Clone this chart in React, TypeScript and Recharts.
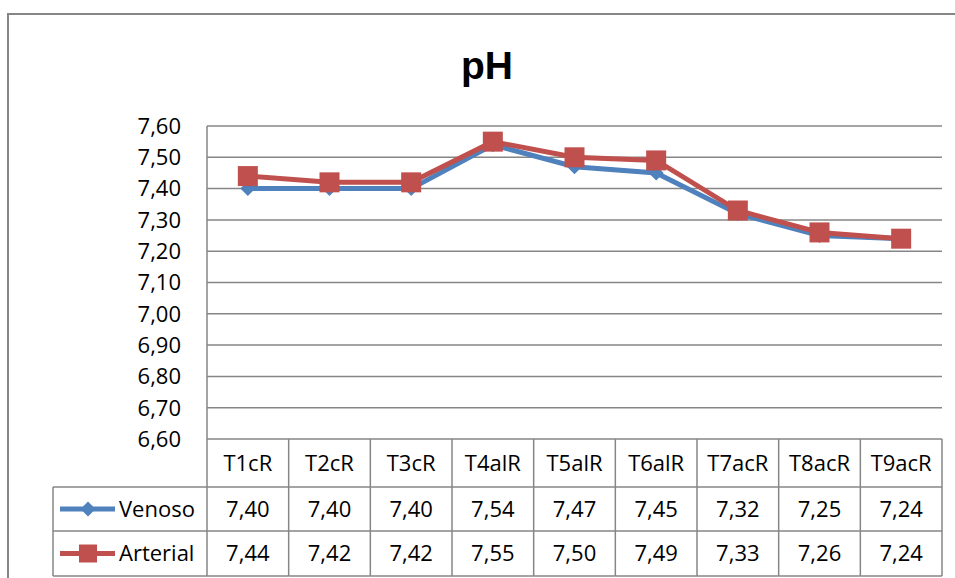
import React from 'react';
import { LineChart, Line, XAxis, YAxis, CartesianGrid } from 'recharts';

const categories = ['T1cR', 'T2cR', 'T3cR', 'T4alR', 'T5alR', 'T6alR', 'T7acR', 'T8acR', 'T9acR'];
const venoso = [7.4, 7.4, 7.4, 7.54, 7.47, 7.45, 7.32, 7.25, 7.24];
const arterial = [7.44, 7.42, 7.42, 7.55, 7.5, 7.49, 7.33, 7.26, 7.24];
const yTicks = [6.6, 6.7, 6.8, 6.9, 7.0, 7.1, 7.2, 7.3, 7.4, 7.5, 7.6];

const data = categories.map((name, i) => ({ name, venoso: venoso[i], arterial: arterial[i] }));

const W = 947;
const H = 570;
const MARGIN = { top: 118, right: 13, bottom: 0, left: 0 };
const Y_AXIS_W = 199;
const X_AXIS_H = H - 431;
const COL_W = (W - MARGIN.right - Y_AXIS_W) / categories.length;

const BLUE = '#4F81BD';
const RED = '#C0504D';
const GRID = '#868686';
const FONT = "'Open Sans', sans-serif";
const FS = 22;

// table rows (chart coords)
const ROW_TOP = 431;
const ROW1 = 479;
const ROW2 = 523;
const ROW3 = 568;
const LEGEND_LEFT = 45;

const fmt = (v: number) => v.toFixed(2).replace('.', ',');

function Diamond({ cx, cy, size = 7.5, key }: any) {
  if (cx == null || cy == null) return <g key={key} />;
  return (
    <polygon
      key={key}
      points={`${cx},${cy - size} ${cx + size},${cy} ${cx},${cy + size} ${cx - size},${cy}`}
      fill={BLUE}
    />
  );
}

function Square({ cx, cy, size = 10, key }: any) {
  if (cx == null || cy == null) return <g key={key} />;
  return <rect key={key} x={cx - size} y={cy - size} width={size * 2} height={size * 2} fill={RED} />;
}

function cellText(x: number, yTop: number, yBot: number, s: string, anchor: 'middle' | 'start' = 'middle') {
  return (
    <text
      x={x}
      y={(yTop + yBot) / 2}
      dy="0.36em"
      textAnchor={anchor}
      fontFamily={FONT}
      fontSize={FS}
      fill="#000"
    >
      {s}
    </text>
  );
}

function TableTick(props: any) {
  const { x, payload } = props;
  const i = categories.indexOf(payload.value);
  const left = x - COL_W / 2;
  const right = x + COL_W / 2;
  const line = { stroke: GRID, strokeWidth: 1.5 };
  return (
    <g>
      {i === 0 && (
        <g>
          <line x1={left} y1={ROW_TOP} x2={left} y2={ROW3} {...line} />
          <line x1={LEGEND_LEFT} y1={ROW1} x2={left} y2={ROW1} {...line} />
          <line x1={LEGEND_LEFT} y1={ROW2} x2={left} y2={ROW2} {...line} />
          <line x1={LEGEND_LEFT} y1={ROW3} x2={left} y2={ROW3} {...line} />
          <line x1={LEGEND_LEFT} y1={ROW1} x2={LEGEND_LEFT} y2={ROW3} {...line} />
          <line x1={52} y1={(ROW1 + ROW2) / 2} x2={107} y2={(ROW1 + ROW2) / 2} stroke={BLUE} strokeWidth={5} />
          {Diamond({ cx: 80, cy: (ROW1 + ROW2) / 2 })}
          {cellText(111, ROW1, ROW2, 'Venoso', 'start')}
          <line x1={52} y1={(ROW2 + ROW3) / 2} x2={107} y2={(ROW2 + ROW3) / 2} stroke={RED} strokeWidth={5} />
          {Square({ cx: 80, cy: (ROW2 + ROW3) / 2, size: 9 })}
          {cellText(111, ROW2, ROW3, 'Arterial', 'start')}
        </g>
      )}
      <line x1={right} y1={ROW_TOP} x2={right} y2={ROW3} {...line} />
      <line x1={left} y1={ROW1} x2={right} y2={ROW1} {...line} />
      <line x1={left} y1={ROW2} x2={right} y2={ROW2} {...line} />
      <line x1={left} y1={ROW3} x2={right} y2={ROW3} {...line} />
      {cellText(x, ROW_TOP, ROW1, String(payload.value))}
      {cellText(x, ROW1, ROW2, fmt(venoso[i]))}
      {cellText(x, ROW2, ROW3, fmt(arterial[i]))}
    </g>
  );
}

export default function App() {
  // fixed so the page never scrolls; everything below is in page pixels
  return (
    <div
      style={{
        position: 'fixed',
        left: 0,
        top: 0,
        width: 955,
        height: 578,
        overflow: 'hidden',
        background: '#fff',
      }}
    >
      <div
        style={{
          position: 'absolute',
          left: 7,
          top: 13,
          width: 1200,
          height: 1200,
          border: `2px solid ${GRID}`,
        }}
      />
      <div
        style={{
          position: 'absolute',
          left: 8,
          top: 46,
          width: 958,
          textAlign: 'center',
          fontFamily: "'Liberation Sans', Arial, sans-serif",
          fontWeight: 'bold',
          fontSize: 39,
          lineHeight: '39px',
          color: '#000',
        }}
      >
        pH
      </div>
      <div style={{ position: 'absolute', left: 8, top: 8 }}>
        <LineChart width={W} height={H} data={data} margin={MARGIN}>
          <CartesianGrid vertical={false} stroke={GRID} strokeWidth={1.5} />
          <XAxis
            dataKey="name"
            scale="point"
            padding={{ left: COL_W / 2, right: COL_W / 2 }}
            height={X_AXIS_H}
            axisLine={false}
            tickLine={false}
            tickSize={0}
            tickMargin={0}
            interval={0}
            tick={<TableTick />}
          />
          <YAxis
            domain={[6.6, 7.6]}
            ticks={yTicks}
            width={Y_AXIS_W}
            axisLine={{ stroke: GRID, strokeWidth: 1.5 }}
            tickLine={false}
            tickSize={0}
            tickMargin={26}
            tickFormatter={fmt}
            tick={{ fontFamily: FONT, fontSize: FS, fill: '#000' }}
            interval={0}
          />
          <Line
            type="linear"
            dataKey="venoso"
            stroke={BLUE}
            strokeWidth={5}
            dot={(p: any) => Diamond({ cx: p.cx, cy: p.cy, key: `v${p.index}` })}
            activeDot={false}
            isAnimationActive={false}
          />
          <Line
            type="linear"
            dataKey="arterial"
            stroke={RED}
            strokeWidth={5}
            dot={(p: any) => Square({ cx: p.cx, cy: p.cy, key: `a${p.index}` })}
            activeDot={false}
            isAnimationActive={false}
          />
        </LineChart>
      </div>
    </div>
  );
}
